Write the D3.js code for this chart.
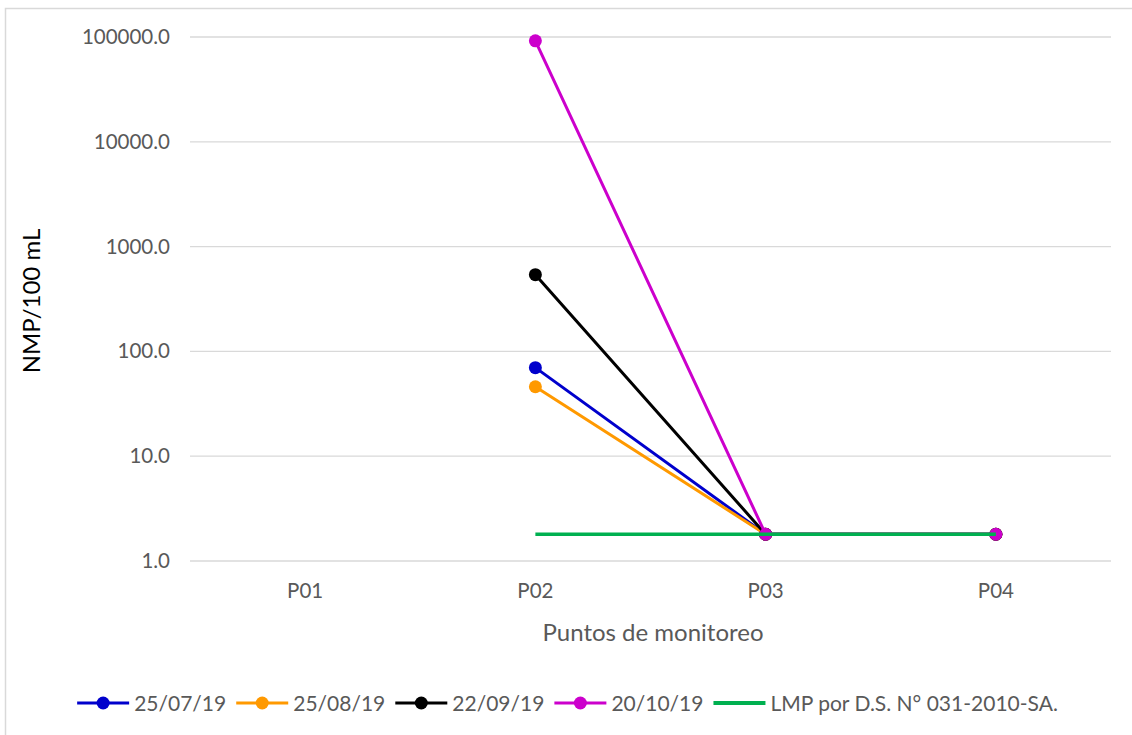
<!DOCTYPE html>
<html>
<head>
<meta charset="utf-8">
<script src="https://cdn.jsdelivr.net/npm/d3@7"></script>
<style>
  body { margin: 0; background: #fff; }
  text { font-family: Lato, "Open Sans", sans-serif; }
</style>
</head>
<body>
<svg id="chart"></svg>
<script>
// Datos
const puntos = ["P01", "P02", "P03", "P04"];
const fechas = ["25/07/19", "25/08/19", "22/09/19", "20/10/19"];
const v250719 = [null, 70, 1.8, 1.8];
const v250819 = [null, 46, 1.8, 1.8];
const v220919 = [null, 540, 1.8, 1.8];
const v201019 = [null, 92000, 1.8, 1.8];
const lmp = [null, 1.8, 1.8, 1.8];
const lmpLabel = "LMP por D.S. N° 031-2010-SA.";
const yTicks = [1, 10, 100, 1000, 10000, 100000];

const colores = ["#0000cc", "#ff9900", "#000000", "#cc00cc"];
const verde = "#00b050";

const W = 1132, H = 735;
const margin = { top: 37, right: 21, bottom: 174, left: 190 },
  width = W - margin.left - margin.right,
  height = H - margin.top - margin.bottom;

const svg = d3.select("#chart").attr("width", W).attr("height", H);

// marco del gráfico
svg.append("rect")
  .attr("x", 5.5).attr("y", 8.5)
  .attr("width", 1140).attr("height", 740)
  .attr("fill", "none").attr("stroke", "#d9d9d9").attr("stroke-width", 1.5);

const g = svg.append("g")
  .attr("transform", "translate(" + margin.left + "," + margin.top + ")");

const x = d3.scaleBand(puntos, [0, width]);
const y = d3.scaleLog([1, 100000], [height, 0]);
const cx = d => x(d) + x.bandwidth() / 2;

// Grilla
g.append("g")
  .selectAll("line")
  .data(yTicks)
  .join("line")
  .attr("x1", 0).attr("x2", width)
  .attr("y1", d => y(d)).attr("y2", d => y(d))
  .attr("stroke", "#d9d9d9").attr("stroke-width", 1.3);

// Eje Y
const yAxis = d3.axisLeft(y).tickValues(yTicks).tickSize(0).tickPadding(20)
  .tickFormat(d3.format(".1f"));
g.append("g").call(yAxis)
  .call(s => s.select(".domain").remove())
  .selectAll("text")
  .attr("font-size", 20.5).attr("fill", "#595959")
  .style("font-family", "Lato, 'Open Sans', sans-serif");

// Eje X
const xAxis = d3.axisBottom(x).tickSize(0).tickPadding(22);
g.append("g").attr("transform", `translate(0,${height})`).call(xAxis)
  .call(s => s.select(".domain").remove())
  .selectAll("text")
  .attr("font-size", 20.5).attr("fill", "#595959")
  .style("font-family", "Lato, 'Open Sans', sans-serif");

// Títulos
svg.append("text")
  .attr("x", 653).attr("y", 641)
  .attr("text-anchor", "middle")
  .attr("font-size", 24).attr("fill", "#595959")
  .text("Puntos de monitoreo");

svg.append("text")
  .attr("transform", "translate(40,301) rotate(-90)")
  .attr("text-anchor", "middle")
  .attr("font-size", 24).attr("fill", "#000")
  .text("NMP/100 mL");

// Series
const series = [v250719, v250819, v220919, v201019];
const line = d3.line()
  .defined(d => d[1] != null)
  .x(d => cx(d[0]))
  .y(d => y(d[1]));

series.forEach((vals, i) => {
  const data = puntos.map((p, j) => [p, vals[j]]);
  g.append("path")
    .datum(data)
    .attr("fill", "none")
    .attr("stroke", colores[i])
    .attr("stroke-width", 3)
    .attr("d", line);
  g.append("g")
    .selectAll("circle")
    .data(data.filter(d => d[1] != null))
    .join("circle")
    .attr("cx", d => cx(d[0]))
    .attr("cy", d => y(d[1]))
    .attr("r", 6.5)
    .attr("fill", colores[i]);
});

// LMP
g.append("path")
  .datum(puntos.map((p, j) => [p, lmp[j]]))
  .attr("fill", "none")
  .attr("stroke", verde)
  .attr("stroke-width", 3.5)
  .attr("d", line);

// Leyenda
const legend = svg.append("g");
const items = fechas.map((f, i) => ({ label: f, color: colores[i], marker: true }))
  .concat([{ label: lmpLabel, color: verde, marker: false }]);
let lx = 0;
items.forEach(it => {
  const gi = legend.append("g").attr("transform", `translate(${lx},0)`);
  gi.append("line").attr("x1", 0).attr("x2", 52).attr("y1", 0).attr("y2", 0)
    .attr("stroke", it.color).attr("stroke-width", it.marker ? 3 : 4);
  if (it.marker) gi.append("circle").attr("cx", 26).attr("cy", 0).attr("r", 6.5).attr("fill", it.color);
  const t = gi.append("text").attr("x", 57).attr("y", 7.5)
    .attr("font-size", 21).attr("fill", "#595959").text(it.label);
  lx += 57 + t.node().getComputedTextLength() + 10;
});
const totalW = lx - 10;
legend.attr("transform", `translate(${(78 + 1057) / 2 - totalW / 2},703)`);
</script>
</body>
</html>
